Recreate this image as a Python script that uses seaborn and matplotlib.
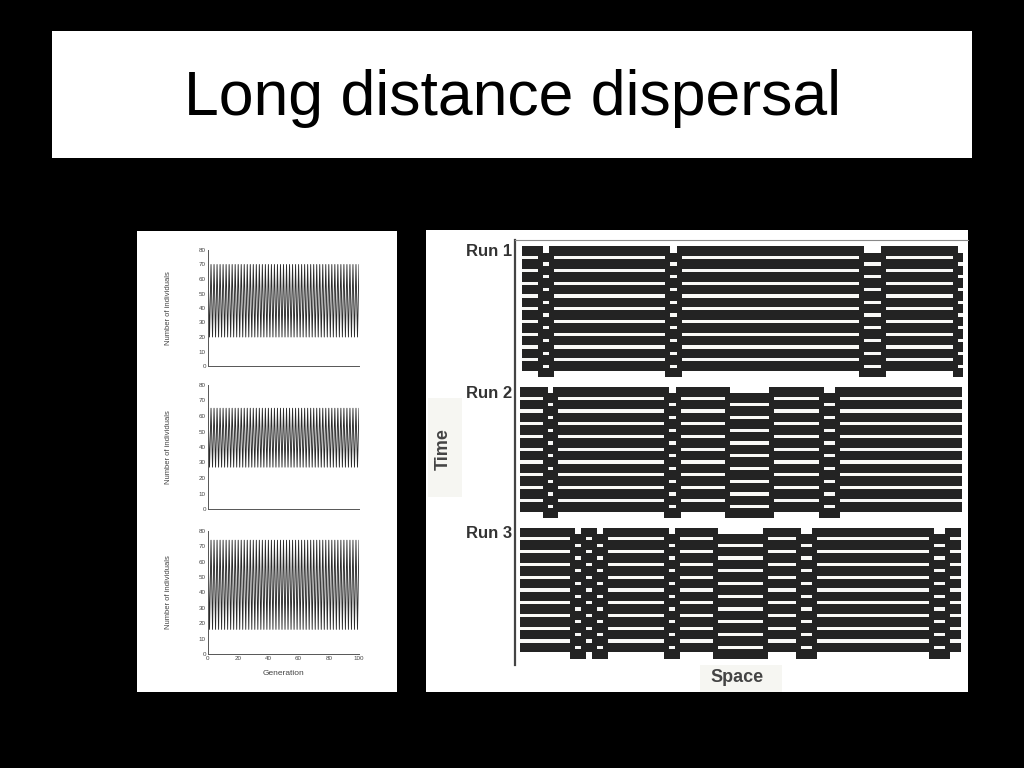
import numpy as np
import pandas as pd
import matplotlib
matplotlib.use("Agg")
import matplotlib.pyplot as plt
import seaborn as sns
from matplotlib.colors import ListedColormap
from matplotlib.patches import Rectangle

# Left panels: population size per generation (two-point cycle)
generations = list(range(0, 101))
pop_run1 = [70, 20] * 50 + [70]
pop_run2 = [65, 27] * 50 + [65]
pop_run3 = [74, 16] * 50 + [74]
y_ticks = [0, 10, 20, 30, 40, 50, 60, 70, 80]
x_ticks = [0, 20, 40, 60, 80, 100]

# Right panel: space-time plots, boundaries between in-phase patches and their phase
run_names = ["Run 1", "Run 2", "Run 3"]
n_steps = 10
run1_edges = [7, 25, 36, 152, 164, 346, 368, 440, 448]
run1_phase = [0, 1, 0, 1, 0, 1, 0, 1]
run2_edges = [5, 30, 40, 151, 163, 212, 256, 306, 322, 447]
run2_phase = [0, 1, 0, 1, 0, 1, 0, 1, 0]
run3_edges = [5, 57, 68, 79, 90, 151, 162, 200, 250, 283, 299, 416, 432, 446]
run3_phase = [0, 1, 0, 1, 0, 1, 0, 1, 0, 1, 0, 1, 0]

sns.set_style("white")
plt.rcParams["font.family"] = ["Liberation Sans", "DejaVu Sans"]

W, H = 1024, 768


def box(x, y, w, h):
    return [x / W, 1 - (y + h) / H, w / W, h / H]


fig = plt.figure(figsize=(10.24, 7.68), dpi=100, facecolor="black")

# white slide boxes
for (x, y, w, h) in [(52, 31, 920, 127), (137, 231, 260, 461), (426, 230, 542, 462)]:
    b = box(x, y, w, h)
    fig.patches.append(Rectangle((b[0], b[1]), b[2], b[3], transform=fig.transFigure,
                                 facecolor="white", edgecolor="none", zorder=-2))
# faint label boxes from the scan
for (x, y, w, h) in [(428, 398, 34, 99), (700, 665, 82, 27)]:
    b = box(x, y, w, h)
    fig.patches.append(Rectangle((b[0], b[1]), b[2], b[3], transform=fig.transFigure,
                                 facecolor="#f6f6f2", edgecolor="none", zorder=-1))

fig.text(0.5, 1 - 99 / H, "Long distance dispersal", ha="center", va="center",
         fontsize=45, color="black")

# ---- left: time series
panels = [(pop_run1, 250, 366), (pop_run2, 385, 509), (pop_run3, 531, 654)]
for i, (pop, top, bottom) in enumerate(panels):
    ax = fig.add_axes(box(208, top, 151, bottom - top))
    ax.set_zorder(2)
    df = pd.DataFrame({"Generation": generations, "Number of individuals": pop})
    sns.lineplot(data=df, x="Generation", y="Number of individuals", ax=ax,
                 color="#2b2b2b", linewidth=0.65)
    ax.set_facecolor("none")
    ax.set_xlim(0, 100)
    ax.set_ylim(0, 80)
    ax.set_yticks(y_ticks)
    ax.set_yticks(range(5, 80, 10), minor=True)
    ax.set_xticks(range(0, 101, 10))
    ax.set_xticklabels([str(t) if t in x_ticks else "" for t in range(0, 101, 10)])
    sns.despine(ax=ax)
    for s in ["left", "bottom"]:
        ax.spines[s].set_color("#555555")
        ax.spines[s].set_linewidth(0.7)
    ax.tick_params(axis="both", which="both", direction="in", length=2, width=0.5,
                   color="#555555", labelsize=4.5, labelcolor="#444444", pad=1.5)
    ax.tick_params(axis="y", which="minor", length=1.2)
    ax.set_ylabel("Number of individuals", fontsize=5.5, color="#444444")
    ax.yaxis.set_label_coords(-36 / 151, 0.5)
    if i < 2:
        ax.set_xlabel("")
        ax.tick_params(axis="x", labelbottom=False)
    else:
        ax.set_xlabel("Generation", fontsize=6, color="#444444")
        ax.xaxis.set_label_coords(0.5, -0.13)

# ---- right: space-time plots
SUB = 8
NCOLS = 453


def run_grid(edges, phases):
    nrows = n_steps * SUB - 2 + SUB // 2
    g = np.full((nrows, NCOLS), np.nan)
    rows = np.arange(n_steps * SUB - 2)
    block = np.where(rows % SUB < SUB - 2, 1.0, 0.0)
    for x0, x1, p in zip(edges[:-1], edges[1:], phases):
        top = p * SUB // 2
        g[top:top + len(rows), x0:x1] = block[:, None]
    for k, e in enumerate(edges[1:-1]):
        top = min(phases[k], phases[k + 1]) * SUB // 2
        bot = max(phases[k], phases[k + 1]) * SUB // 2 + len(rows)
        g[top:bot, e - 2:e + 3] = 1.0
    return g


pad = np.full((4, NCOLS), np.nan)
gap = np.full((6, NCOLS), np.nan)
grid = np.vstack([pad, run_grid(run1_edges, run1_phase), gap,
                  run_grid(run2_edges, run2_phase), gap,
                  run_grid(run3_edges, run3_phase), pad])

axr = fig.add_axes(box(515, 240, 453, 425))
axr.set_zorder(2)
sns.heatmap(grid, ax=axr, cmap=ListedColormap(["#f8f8f6", "#232323"]), vmin=0, vmax=1,
            cbar=False, xticklabels=False, yticklabels=False)
axr.set_facecolor("white")
for s in ["left", "top"]:
    axr.spines[s].set_visible(True)
axr.spines["left"].set_color("#444444")
axr.spines["left"].set_linewidth(1.6)
axr.spines["top"].set_color("#888888")
axr.spines["top"].set_linewidth(0.8)
axr.spines["right"].set_visible(False)
axr.spines["bottom"].set_visible(False)

for name, yc in zip(run_names, [251, 394, 534]):
    fig.text(512 / W, 1 - yc / H, name, ha="right", va="center", fontsize=12,
             fontweight="bold", color="#333333")
fig.text(443 / W, 1 - 449 / H, "Time", rotation=90, ha="center", va="center",
         fontsize=13, fontweight="bold", color="#444444")
fig.text(737 / W, 1 - 677 / H, "Space", ha="center", va="center",
         fontsize=13, fontweight="bold", color="#444444")

fig.savefig("out.png", dpi=100, facecolor="black")
